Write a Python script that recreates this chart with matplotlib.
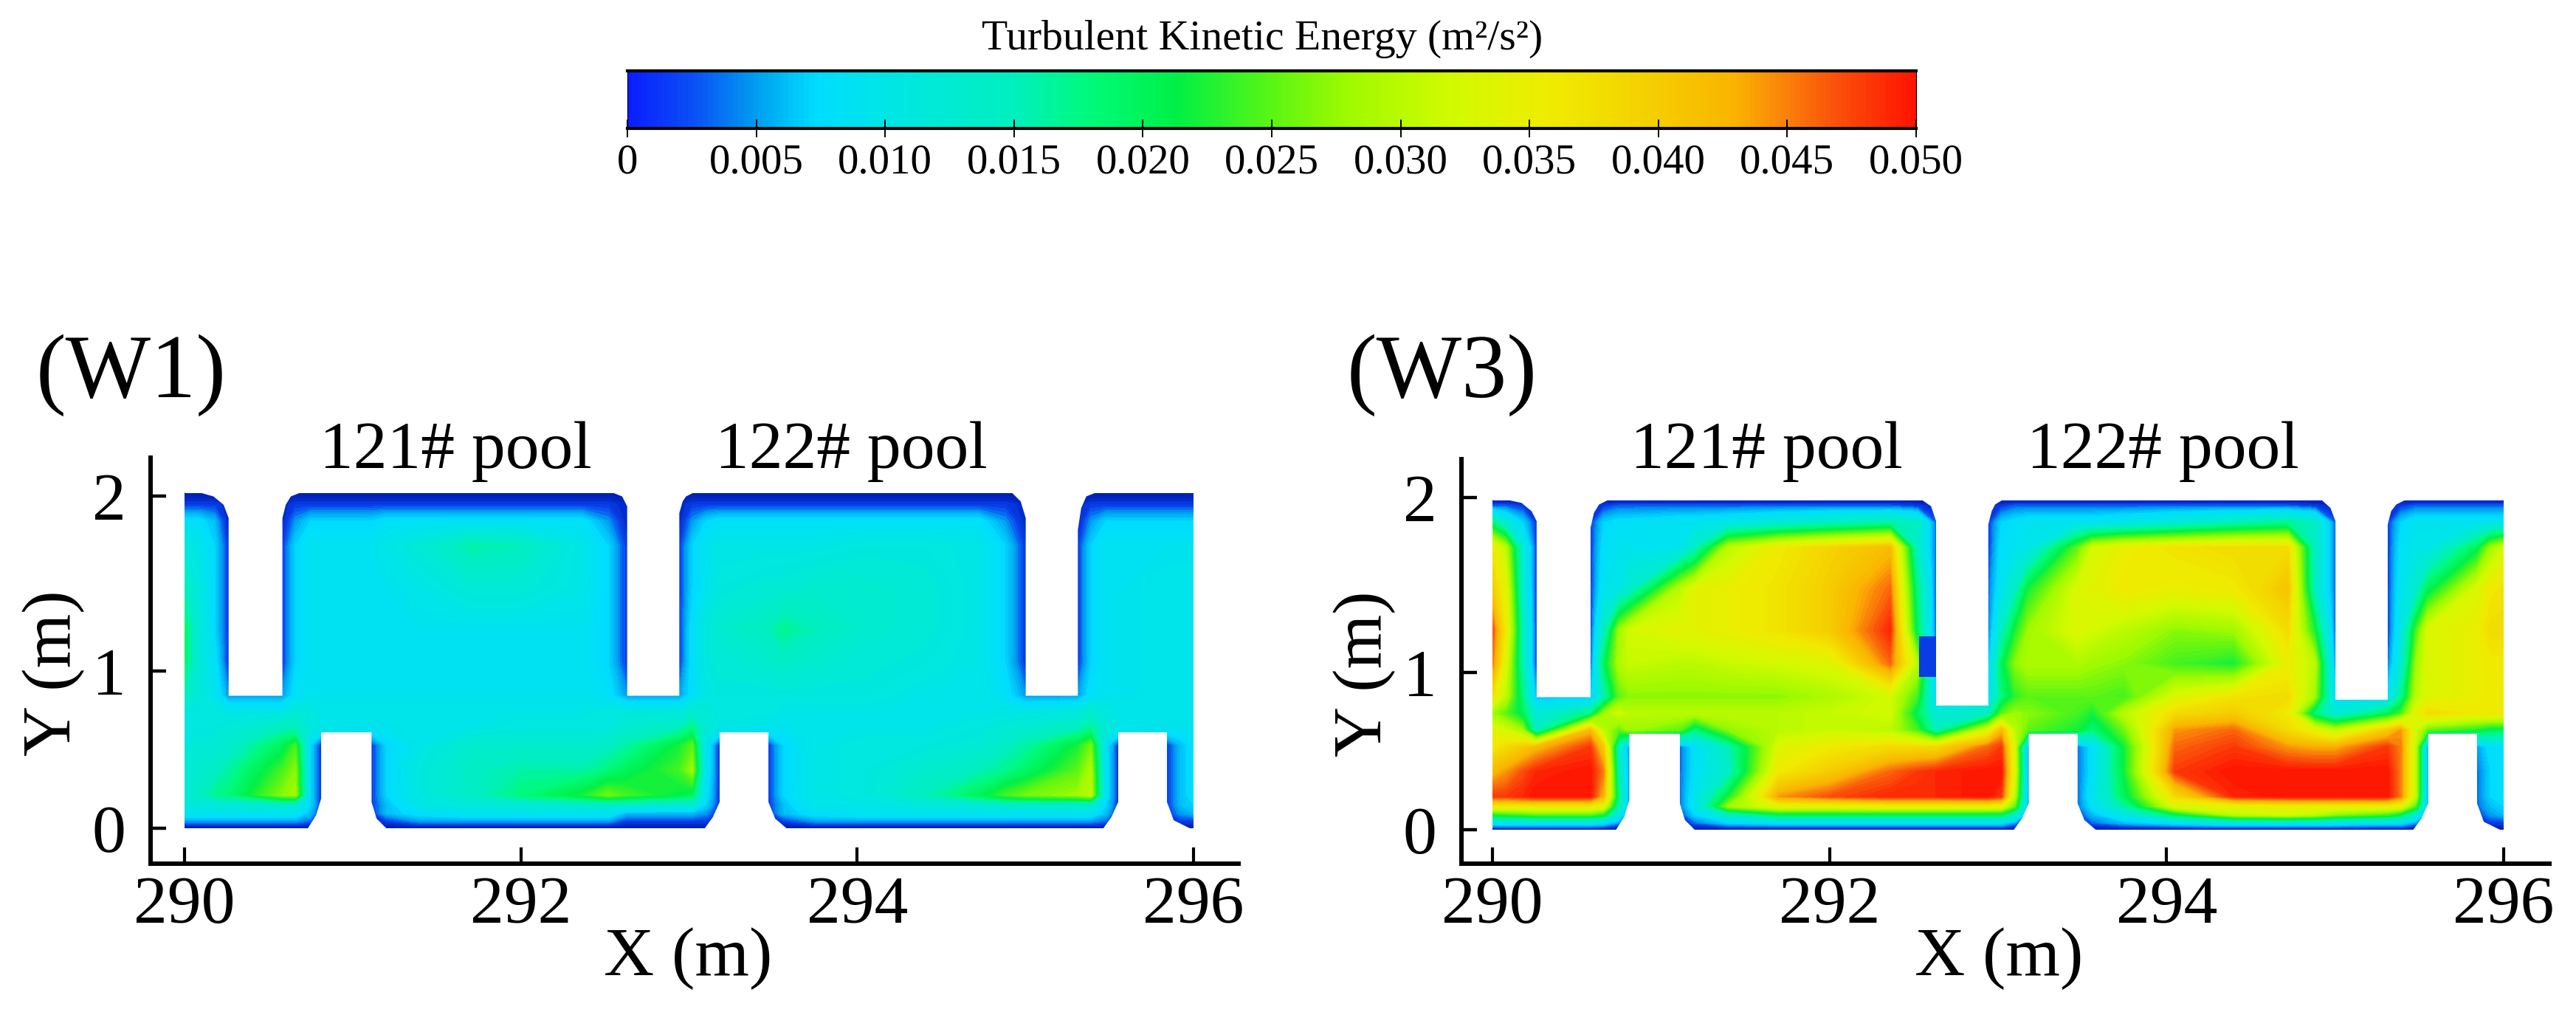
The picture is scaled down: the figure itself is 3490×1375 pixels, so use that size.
import numpy as np
import matplotlib
matplotlib.use('Agg')
import matplotlib.pyplot as plt
from matplotlib.colors import LinearSegmentedColormap, Normalize
from matplotlib.cm import ScalarMappable

plt.rcParams['font.family'] = ['Liberation Serif', 'DejaVu Serif']

# Colour bar (position on the bar, colour)
cbar_pos = [0, 0.05, 0.10, 0.144, 0.2, 0.3, 0.36, 0.426, 0.5, 0.56, 0.64, 0.72, 0.8, 0.86, 0.9, 0.94, 1]
cbar_colors = ['#0a1eff', '#0a50f5', '#00a0f0', '#00dcff', '#00e6e6', '#00f0be', '#00fa78', '#00f046',
               '#5af514', '#a0fa00', '#d2fa00', '#f0eb00', '#f5cd00', '#fab400', '#fa820a', '#fa500a', '#ff1400']
# The walls in the plots are darker than the low end of the bar
field_pos = [0, 0.04, 0.07] + cbar_pos[2:]
field_colors = ['#001496', '#0028c8', '#0a46f0'] + cbar_colors[2:]
cbar_ticks = [0, 0.005, 0.010, 0.015, 0.020, 0.025, 0.030, 0.035, 0.040, 0.045, 0.050]
cbar_labels = ['0', '0.005', '0.010', '0.015', '0.020', '0.025', '0.030', '0.035', '0.040', '0.045', '0.050']

# Sample columns and rows (m), rows go from the top of the channel down
x_nodes = [290.0, 290.08, 290.18, 290.26, 290.58, 290.66, 290.75, 290.81,
           291.11, 291.2, 291.4, 291.7, 292.0, 292.36, 292.52, 292.63,
           292.94, 293.02, 293.1, 293.18,
           293.47, 293.56, 293.75, 294.05, 294.4, 294.72, 294.88, 295.0,
           295.31, 295.39, 295.48, 295.55,
           295.84, 295.92, 296.0]
y_nodes_w1 = [2.02, 1.95, 1.85, 1.7, 1.45, 1.2, 1.0, 0.8, 0.7, 0.6, 0.5, 0.35, 0.2, 0.14, 0.09, 0.04, 0]
y_nodes_w3 = [1.985, 1.95, 1.85, 1.7, 1.45, 1.2, 1.0, 0.8, 0.7, 0.6, 0.5, 0.35, 0.2, 0.14, 0.09, 0.04, 0]

# Turbulent kinetic energy, in 0.001 m2/s2
tke_w1 = [
    [1, 1, 1, 1, 1, 1, 1, 1, 1, 1, 1, 1, 1, 1, 1, 1, 1, 1, 1, 1, 1, 1, 1, 1, 1, 1, 1, 1, 1, 1, 1, 1, 1, 1, 1],
    [3, 3, 3, 2, 2, 3, 3, 3, 3, 3, 3, 3, 3, 3, 3, 2, 2, 3, 3, 3, 3, 3, 3, 3, 3, 3, 3, 2, 2, 3, 3, 3, 3, 3, 3],
    [8, 8, 6, 2, 2, 5, 7, 7, 7, 8, 8, 8, 8, 8, 5, 2, 2, 5, 7, 8, 8, 8, 8, 8, 8, 8, 5, 2, 2, 5, 7, 7, 7, 7, 7],
    [11, 10, 7, 3, 3, 7, 9, 9, 9, 10, 12, 16, 15, 10, 7, 3, 3, 7, 9, 10, 10, 10, 10, 11, 11, 10, 7, 3, 3, 7, 9, 9, 9, 9, 9],
    [15, 11, 7, 3, 3, 7, 9, 9, 9, 9, 10, 12, 12, 10, 7, 3, 3, 7, 9, 11, 12, 12, 13, 13, 12, 10, 7, 3, 3, 7, 9, 9, 10, 10, 10],
    [19, 12, 7, 3, 3, 7, 9, 9, 9, 9, 9, 9, 9, 9, 7, 3, 3, 8, 11, 13, 15, 17, 15, 13, 12, 10, 7, 3, 3, 7, 9, 9, 10, 10, 10],
    [19, 12, 8, 3, 3, 7, 9, 9, 9, 9, 9, 9, 9, 9, 7, 3, 3, 8, 11, 12, 13, 14, 13, 12, 11, 10, 7, 3, 3, 7, 9, 9, 10, 10, 10],
    [15, 12, 9, 5, 5, 8, 9, 9, 9, 9, 9, 9, 9, 9, 8, 5, 5, 8, 10, 11, 11, 11, 11, 11, 10, 10, 8, 5, 5, 8, 9, 9, 10, 10, 10],
    [11, 11, 11, 10, 10, 12, 11, 10, 10, 10, 10, 10, 10, 10, 11, 11, 11, 13, 12, 11, 11, 10, 10, 10, 10, 10, 10, 10, 11, 13, 11, 10, 10, 10, 10],
    [11, 11, 11, 12, 15, 15, 11, 10, 9, 9, 10, 10, 11, 11, 11, 13, 15, 18, 12, 10, 9, 9, 10, 10, 10, 11, 12, 13, 15, 17, 12, 10, 9, 9, 9],
    [11, 12, 12, 13, 20, 24, 7, 3, 3, 7, 10, 13, 13, 13, 14, 16, 22, 25, 9, 3, 3, 7, 10, 11, 11, 12, 14, 16, 22, 26, 8, 3, 3, 6, 8],
    [12, 13, 14, 16, 24, 27, 7, 3, 3, 7, 11, 14, 16, 16, 18, 20, 24, 28, 9, 3, 3, 7, 10, 11, 13, 15, 17, 19, 25, 29, 8, 3, 3, 6, 8],
    [12, 14, 17, 18, 27, 28, 7, 3, 3, 7, 11, 14, 18, 22, 26, 24, 21, 20, 8, 3, 3, 7, 10, 11, 15, 20, 24, 26, 28, 30, 8, 3, 3, 6, 8],
    [11, 11, 11, 12, 13, 12, 7, 3, 3, 6, 10, 11, 12, 13, 13, 13, 12, 12, 7, 3, 3, 6, 10, 10, 11, 12, 13, 13, 13, 13, 7, 3, 3, 6, 7],
    [9, 9, 9, 9, 9, 9, 6, 3, 3, 6, 8, 9, 9, 9, 9, 6, 6, 6, 5, 3, 3, 6, 8, 9, 9, 9, 9, 9, 9, 9, 6, 3, 3, 5, 6],
    [5, 5, 5, 5, 5, 5, 4, 2, 2, 3, 5, 5, 5, 5, 5, 3, 3, 3, 3, 2, 2, 3, 5, 5, 5, 5, 5, 5, 5, 5, 4, 2, 2, 3, 3],
    [1, 1, 1, 1, 1, 1, 1, 1, 1, 1, 1, 1, 1, 1, 1, 1, 1, 1, 1, 1, 1, 1, 1, 1, 1, 1, 1, 1, 1, 1, 1, 1, 1, 1, 1],
]
tke_w3 = [
    [1, 1, 1, 1, 1, 1, 1, 1, 1, 1, 1, 1, 1, 1, 1, 1, 1, 1, 1, 1, 1, 1, 1, 1, 1, 1, 1, 1, 1, 1, 1, 1, 1, 1, 1],
    [4, 4, 3, 2, 2, 3, 4, 4, 4, 4, 4, 4, 4, 4, 3, 2, 2, 3, 4, 4, 4, 4, 4, 4, 4, 4, 3, 2, 2, 3, 4, 4, 4, 4, 4],
    [18, 12, 7, 3, 3, 7, 8, 8, 9, 9, 10, 12, 14, 16, 14, 4, 3, 7, 8, 9, 9, 9, 10, 12, 15, 17, 14, 4, 3, 7, 9, 9, 9, 9, 9],
    [36, 30, 12, 3, 3, 8, 9, 9, 9, 14, 30, 36, 39, 42, 14, 4, 3, 8, 9, 10, 25, 32, 35, 37, 38, 38, 14, 4, 3, 8, 10, 10, 20, 28, 32],
    [40, 34, 13, 3, 3, 9, 10, 13, 30, 34, 35, 37, 40, 46, 18, 4, 4, 9, 14, 22, 33, 34, 36, 35, 36, 41, 14, 4, 3, 9, 13, 20, 33, 36, 37],
    [47, 36, 15, 3, 3, 14, 28, 32, 34, 34, 35, 37, 40, 49, 20, 4, 4, 14, 22, 28, 33, 32, 30, 27, 28, 38, 22, 4, 3, 10, 24, 33, 35, 38, 38],
    [45, 33, 15, 3, 3, 20, 29, 31, 30, 30, 31, 32, 33, 46, 30, 5, 6, 20, 27, 29, 29, 28, 27, 24, 22, 35, 30, 5, 4, 12, 28, 33, 35, 36, 36],
    [37, 30, 18, 6, 6, 15, 25, 27, 27, 27, 27, 27, 29, 32, 24, 8, 8, 18, 23, 25, 25, 25, 24, 33, 37, 38, 28, 8, 8, 17, 30, 33, 35, 36, 36],
    [28, 25, 20, 12, 18, 28, 32, 30, 30, 30, 30, 30, 31, 32, 20, 12, 14, 25, 28, 27, 24, 22, 30, 38, 40, 36, 18, 12, 20, 24, 34, 38, 36, 36, 36],
    [34, 32, 28, 14, 42, 30, 25, 28, 25, 18, 27, 30, 31, 30, 24, 15, 33, 42, 30, 25, 22, 18, 26, 44, 46, 38, 34, 30, 40, 44, 32, 25, 22, 20, 20],
    [36, 38, 40, 42, 48, 40, 14, 5, 4, 8, 15, 33, 36, 38, 38, 38, 46, 48, 32, 5, 4, 8, 22, 46, 48, 44, 43, 43, 48, 45, 30, 5, 5, 8, 8],
    [42, 44, 47, 49, 50, 45, 15, 5, 4, 8, 14, 36, 40, 46, 48, 49, 50, 50, 33, 5, 4, 8, 22, 48, 50, 50, 50, 50, 50, 45, 30, 5, 4, 7, 8],
    [48, 48, 49, 50, 50, 42, 18, 5, 4, 9, 22, 44, 47, 49, 49, 49, 50, 48, 30, 5, 4, 9, 20, 38, 49, 50, 50, 50, 50, 45, 30, 5, 4, 7, 8],
    [36, 36, 36, 36, 36, 34, 15, 5, 4, 9, 28, 34, 34, 35, 35, 35, 35, 34, 25, 5, 4, 8, 16, 33, 34, 35, 35, 35, 35, 34, 24, 5, 4, 6, 7],
    [22, 23, 24, 25, 25, 22, 10, 4, 3, 7, 14, 20, 20, 20, 20, 20, 20, 20, 14, 4, 3, 6, 10, 20, 30, 32, 30, 27, 24, 20, 12, 4, 3, 5, 6],
    [9, 9, 9, 9, 9, 8, 5, 2, 2, 4, 7, 8, 8, 8, 8, 8, 8, 8, 5, 2, 2, 4, 6, 8, 10, 10, 10, 9, 8, 8, 5, 2, 2, 3, 3],
    [1, 1, 1, 1, 1, 1, 1, 1, 1, 1, 1, 1, 1, 1, 1, 1, 1, 1, 1, 1, 1, 1, 1, 1, 1, 1, 1, 1, 1, 1, 1, 1, 1, 1, 1],
]

# Outline of the baffles: upper wall and lower wall of the channel
top_x = [290.0, 290.1, 290.17, 290.23, 290.26, 290.26, 290.58, 290.58, 290.6, 290.63, 290.68,
         292.55, 292.6, 292.63, 292.63, 292.94, 292.94, 292.96, 292.98, 293.02,
         294.92, 294.97, 295.0, 295.0, 295.31, 295.31, 295.33, 295.36, 295.41, 296.0]
top_w1 = [2.02, 2.02, 2.0, 1.95, 1.87, 0.8, 0.8, 1.87, 1.95, 2.0, 2.02,
          2.02, 2.0, 1.94, 0.8, 0.8, 1.9, 1.97, 2.0, 2.02,
          2.02, 1.97, 1.87, 0.8, 0.8, 1.8, 1.93, 2.0, 2.02, 2.02]
top_w3 = [1.985, 1.985, 1.97, 1.92, 1.86, 0.8, 0.8, 1.82, 1.91, 1.96, 1.985,
          1.985, 1.95, 1.86, 0.75, 0.75, 1.84, 1.92, 1.96, 1.985,
          1.985, 1.94, 1.86, 0.785, 0.785, 1.84, 1.92, 1.96, 1.985, 1.985]
bot_x = [290.0, 290.73, 290.78, 290.81, 290.81, 291.11, 291.11, 291.14, 291.2,
         293.09, 293.14, 293.18, 293.18, 293.47, 293.47, 293.51, 293.58,
         295.46, 295.51, 295.55, 295.55, 295.84, 295.84, 295.88, 295.98, 296.0]
bot_y = [0, 0, 0.08, 0.18, 0.58, 0.58, 0.16, 0.06, 0,
         0, 0.07, 0.16, 0.58, 0.58, 0.16, 0.06, 0,
         0, 0.07, 0.16, 0.58, 0.58, 0.16, 0.05, 0, 0]

# Odd dark block next to the 292.6 baffle in W3
block_x = [292.53, 292.63]
block_bottom = [0.92, 0.92]
block_top = [1.165, 1.165]

x_ticks = [290, 292, 294, 296]
# the "1" tick sits a bit below the middle in the original
y_ticks = [0, 0.945, 2]
y_tick_labels = ['0', '1', '2']
pool_labels = ['121# pool', '122# pool']

W, H = 3491, 1375
fig = plt.figure(figsize=(W / 100, H / 100), dpi=100, facecolor='white')

cmap = LinearSegmentedColormap.from_list('tke', list(zip(cbar_pos, cbar_colors)), N=256)
field_cmap = LinearSegmentedColormap.from_list('tke_field', list(zip(field_pos, field_colors)), N=256)
norm = Normalize(0, 0.05)
levels = np.linspace(0, 0.05, 101)


def make_panel(left, right, top, bottom, x290, x296, y0, y2, tke, y_nodes, top_y, name, name_x, pool_x):
    ax = fig.add_axes([left / W, 1 - bottom / H, (right - left) / W, (bottom - top) / H])
    per_x = (x296 - x290) / 6
    per_y = (y0 - y2) / 2
    ax.set_xlim(290 + (left - x290) / per_x, 290 + (right - x290) / per_x)
    ax.set_ylim((y0 - bottom) / per_y, (y0 - top) / per_y)

    # Field
    z = np.array(tke) * 0.001
    ax.contourf(x_nodes, y_nodes, z, levels=levels, cmap=field_cmap, norm=norm, extend='both', antialiased=False)

    # Baffles in white
    ax.fill_between(top_x, top_y, max(y_nodes) + 0.01, color='white', lw=0)
    ax.fill_between(bot_x, -0.01, bot_y, color='white', lw=0)

    # Axes
    ax.spines['top'].set_visible(False)
    ax.spines['right'].set_visible(False)
    ax.spines['left'].set_linewidth(4.3)
    ax.spines['bottom'].set_linewidth(4.3)
    ax.set_xticks(x_ticks)
    ax.set_yticks(y_ticks)
    ax.set_yticklabels(y_tick_labels)
    ax.tick_params(axis='x', direction='in', length=16, width=3, labelsize=66, pad=12)
    ax.tick_params(axis='y', direction='in', length=15, width=3.2, labelsize=66, pad=24)
    ax.set_xlabel('X (m)', fontsize=68)
    ax.xaxis.set_label_coords(0.494, -0.157)
    ax.set_ylabel('Y (m)', fontsize=68)
    ax.yaxis.set_label_coords(-0.06, 0.47)

    fig.text(name_x / W, 1 - 508 / H, name, fontsize=88, ha='left', va='center')
    for label, px in zip(pool_labels, pool_x):
        fig.text(px / W, 1 - 612 / H, label, fontsize=66, ha='center', va='center')
    return ax


make_panel(204, 1678, 620, 1170, 250, 1617, 1122, 672, tke_w1, y_nodes_w1, top_w1, '(W1)', 49, [617, 1153])
ax3 = make_panel(1980, 3454, 622, 1170, 2022, 3392, 1124, 674, tke_w3, y_nodes_w3, top_w3, '(W3)', 1825, [2393, 2930])
ax3.fill_between(block_x, block_bottom, block_top, color='#0a3ce6', lw=0)

# Colour bar
cax = fig.add_axes([850 / W, 1 - 174 / H, (2596 - 850) / W, 78 / H])
cbar = fig.colorbar(ScalarMappable(norm=norm, cmap=cmap), cax=cax, orientation='horizontal')
cbar.set_ticks(cbar_ticks)
cbar.set_ticklabels(cbar_labels)
cbar.outline.set_linewidth(0.8)
cax.tick_params(axis='x', direction='inout', length=17, width=1.4, labelsize=41, pad=6)
cax.axhline(0, color='black', lw=3, clip_on=False)
cax.axhline(1, color='black', lw=3, clip_on=False)
fig.text(1710 / W, 1 - 53 / H, 'Turbulent Kinetic Energy (m²/s²)', fontsize=41.5, ha='center', va='center')

fig.savefig('out.png', dpi=100)
